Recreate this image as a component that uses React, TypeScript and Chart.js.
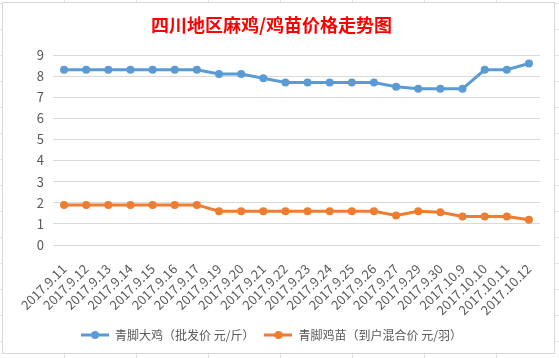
import React, { useEffect, useRef } from "react";
import { Chart, registerables } from "chart.js";

Chart.register(...registerables);

const TITLE = "四川地区麻鸡/鸡苗价格走势图";
const CATEGORIES = [
  "2017.9.11", "2017.9.12", "2017.9.13", "2017.9.14", "2017.9.15", "2017.9.16",
  "2017.9.17", "2017.9.19", "2017.9.20", "2017.9.21", "2017.9.22", "2017.9.23",
  "2017.9.24", "2017.9.25", "2017.9.26", "2017.9.27", "2017.9.29", "2017.9.30",
  "2017.10.9", "2017.10.10", "2017.10.11", "2017.10.12",
];
const SERIES_BIG_NAME = "青脚大鸡（批发价 元/斤）";
const SERIES_BIG = [8.3, 8.3, 8.3, 8.3, 8.3, 8.3, 8.3, 8.1, 8.1, 7.9, 7.7, 7.7, 7.7, 7.7, 7.7, 7.5, 7.4, 7.4, 7.4, 8.3, 8.3, 8.6];
const SERIES_CHICK_NAME = "青脚鸡苗（到户混合价 元/羽）";
const SERIES_CHICK = [1.9, 1.9, 1.9, 1.9, 1.9, 1.9, 1.9, 1.6, 1.6, 1.6, 1.6, 1.6, 1.6, 1.6, 1.6, 1.4, 1.6, 1.55, 1.35, 1.35, 1.35, 1.2];
const Y_MIN = 0;
const Y_MAX = 9;

const BLUE = "#5b9bd5";
const ORANGE = "#ed7d31";
const TEXT = "#595959";
const FONT = '"Noto Sans CJK SC", "Liberation Sans", sans-serif';

function legendIcon(color: string) {
  const c = document.createElement("canvas");
  c.width = 28;
  c.height = 10;
  const ctx = c.getContext("2d")!;
  ctx.strokeStyle = color;
  ctx.lineWidth = 3;
  ctx.beginPath();
  ctx.moveTo(0, 5);
  ctx.lineTo(28, 5);
  ctx.stroke();
  ctx.fillStyle = color;
  ctx.beginPath();
  ctx.arc(14, 5, 4, 0, Math.PI * 2);
  ctx.fill();
  return c;
}

export default function App() {
  const ref = useRef<HTMLCanvasElement>(null);
  useEffect(() => {
    const icons = [legendIcon(BLUE), legendIcon(ORANGE)];
    const chart = new Chart(ref.current!, {
      type: "line",
      data: {
        labels: CATEGORIES,
        datasets: [
          {
            label: SERIES_BIG_NAME,
            data: SERIES_BIG,
            borderColor: BLUE,
            backgroundColor: BLUE,
            borderWidth: 3,
            pointRadius: 4,
            pointHoverRadius: 4,
            pointBorderWidth: 0,
            tension: 0,
          },
          {
            label: SERIES_CHICK_NAME,
            data: SERIES_CHICK,
            borderColor: ORANGE,
            backgroundColor: ORANGE,
            borderWidth: 3,
            pointRadius: 4,
            pointHoverRadius: 4,
            pointBorderWidth: 0,
            tension: 0,
          },
        ],
      },
      options: {
        animation: false,
        responsive: false,
        maintainAspectRatio: false,
        devicePixelRatio: 1,
        layout: { padding: { left: 0, right: 14, top: 0, bottom: 2 } },
        plugins: {
          title: {
            display: true,
            text: TITLE,
            color: "#ff0000",
            font: { family: FONT, size: 18, weight: "bold", lineHeight: 1.2 },
            padding: { top: 11, bottom: 19.4 },
          },
          legend: {
            position: "bottom",
            labels: {
              color: TEXT,
              font: { family: FONT, size: 12 },
              usePointStyle: true,
              pointStyleWidth: 28,
              padding: 10,
              generateLabels: (ch: any) =>
                ch.data.datasets.map((d: any, i: number) => ({
                  text: d.label,
                  fillStyle: d.borderColor,
                  strokeStyle: d.borderColor,
                  pointStyle: icons[i],
                  fontColor: TEXT,
                  datasetIndex: i,
                  hidden: false,
                  lineWidth: 0,
                })),
            },
          },
          tooltip: { enabled: false },
        },
        scales: {
          x: {
            type: "category",
            offset: true,
            grid: { display: false },
            border: { display: false },
            ticks: {
              color: TEXT,
              font: { family: FONT, size: 13 },
              minRotation: 45,
              maxRotation: 45,
              autoSkip: false,
              padding: 8,
            },
            afterFit: (s: any) => {
              s.height = 74;
            },
          },
          y: {
            min: Y_MIN,
            max: Y_MAX,
            grid: { color: "#d9d9d9", lineWidth: 1, drawTicks: false },
            border: { display: false },
            ticks: {
              stepSize: 1,
              color: TEXT,
              font: { family: FONT, size: 13 },
              padding: 9,
            },
            afterFit: (s: any) => {
              s.width = 50;
            },
          },
        },
      },
    } as any);
    return () => chart.destroy();
  }, []);

  return (
    <div
      style={{
        position: "absolute",
        left: 0,
        top: 0,
        width: 559,
        height: 358,
        overflow: "hidden",
        backgroundColor: "#ffffff",
        backgroundImage:
          "linear-gradient(to right, #e3e3e3 1px, transparent 1px), linear-gradient(to bottom, #e3e3e3 1px, transparent 1px)",
        backgroundSize: "72px 26px",
        backgroundPosition: "64px 3px",
      }}
    >
      <div
        style={{
          position: "absolute",
          left: 2,
          top: 2,
          width: 553,
          height: 352,
          boxSizing: "border-box",
          border: "1px solid #d9d9d9",
          background: "#ffffff",
        }}
      >
        <canvas ref={ref} width={551} height={350} style={{ display: "block", width: 551, height: 350 }} />
      </div>
    </div>
  );
}
